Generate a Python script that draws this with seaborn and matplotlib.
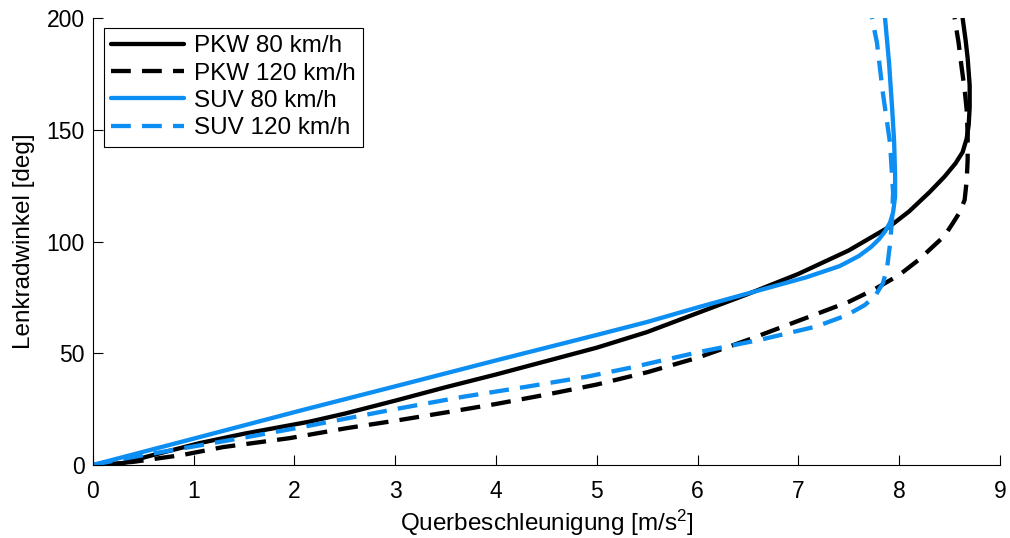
import numpy as np
import pandas as pd
import matplotlib
matplotlib.use("Agg")
import matplotlib.pyplot as plt
import seaborn as sns

# Lenkradwinkel über Querbeschleunigung, zwei Fahrzeuge bei zwei Geschwindigkeiten
pkw80_x = [0.0, 0.3, 0.6, 1.06, 1.5, 2.15, 2.5, 3.0, 3.5, 4.0, 4.5, 5.0, 5.5, 6.0,
           6.5, 7.0, 7.5, 7.9, 8.10, 8.30, 8.45, 8.56, 8.63, 8.67, 8.69,
           8.70, 8.70, 8.68, 8.66, 8.63]
pkw80_y = [0.0, 0.9, 4.5, 9.8, 14.0, 19.4, 23.0, 28.8, 34.8, 40.5, 46.5, 52.5, 59.5, 68.0,
           76.5, 85.5, 96.0, 106.5, 113.5, 122.0, 129.0, 135.0, 140.0, 146.0, 152.0,
           160.0, 170.0, 182.0, 190.0, 200.0]

pkw120_x = [0.0, 0.4, 0.89, 1.29, 1.95, 2.52, 3.0, 3.5, 4.0, 4.5, 5.0, 5.5, 6.0, 6.5,
            7.0, 7.5, 7.75, 8.0, 8.2, 8.33, 8.45, 8.53, 8.60, 8.65, 8.67, 8.68,
            8.68, 8.67, 8.65, 8.62, 8.59, 8.55]
pkw120_y = [0.0, 1.4, 4.5, 8.0, 12.0, 16.5, 19.8, 23.5, 27.3, 31.5, 36.0, 41.5, 48.0, 56.0,
            64.5, 73.0, 78.5, 85.0, 92.0, 97.5, 102.5, 108.0, 113.0, 118.6, 127.0,
            136.5, 148.0, 159.0, 168.0, 178.0, 189.0, 200.0]

suv80_x = [0.0, 1.0, 2.08, 3.0, 4.0, 5.0, 5.5, 6.0, 6.55, 7.08, 7.41, 7.6, 7.72,
           7.80, 7.86, 7.91, 7.94, 7.96, 7.96, 7.95, 7.93, 7.90, 7.86]
suv80_y = [0.0, 11.8, 24.6, 35.2, 46.8, 58.2, 64.0, 70.5, 77.4, 84.0, 89.0, 93.5, 97.5,
           101.0, 104.5, 108.5, 113.0, 120.0, 130.0, 145.0, 160.0, 180.0, 200.0]

suv120_x = [0.0, 0.3, 0.63, 1.19, 1.53, 2.08, 2.4, 3.0, 3.67, 4.3, 4.9, 5.33, 6.02,
            6.62, 7.18, 7.48, 7.66, 7.76, 7.84, 7.88, 7.91, 7.93, 7.94, 7.91, 7.84,
            7.78, 7.73]
suv120_y = [0.0, 2.8, 5.4, 9.8, 12.5, 17.0, 19.8, 25.0, 30.5, 35.0, 39.5, 43.5, 50.6,
            56.0, 62.0, 67.0, 71.6, 75.5, 81.4, 88.0, 99.0, 110.0, 122.0, 144.0, 166.0,
            189.0, 200.0]

labels = ["PKW 80 km/h", "PKW 120 km/h", "SUV 80 km/h", "SUV 120 km/h"]
xs = [pkw80_x, pkw120_x, suv80_x, suv120_x]
ys = [pkw80_y, pkw120_y, suv80_y, suv120_y]

x_ticks = list(range(0, 10))
y_ticks = [0, 50, 100, 150, 200]

sns.set_theme(style="white")
plt.rcParams["font.family"] = ["Liberation Sans", "DejaVu Sans"]
plt.rcParams["mathtext.fontset"] = "custom"
plt.rcParams["mathtext.rm"] = "Liberation Sans"
plt.rcParams["mathtext.it"] = "Liberation Sans"
plt.rcParams["text.color"] = "black"
plt.rcParams["axes.labelcolor"] = "black"

blue = "#0C8EF2"
colors = ["black", "black", blue, blue]
dashed = [False, True, False, True]
fs_tick = 16.5
fs_text = 17.5

fig = plt.figure(figsize=(10.10, 5.38), dpi=100)
ax = fig.add_axes([0.092, 0.1357, 0.898, 0.8308])

for lab, x, y, c, d in zip(labels, xs, ys, colors, dashed):
    df = pd.DataFrame({"a": x, "w": y})
    sns.lineplot(data=df, x="a", y="w", sort=False, estimator=None, color=c,
                 lw=3.1, ax=ax, label=lab)
    line = ax.get_lines()[-1]
    line.set_solid_joinstyle("round")
    if d:
        line.set_dashes((4.6, 2.6))

ax.set_xlim(0, 9)
ax.set_ylim(0, 200)
ax.set_xticks(x_ticks)
ax.set_yticks(y_ticks)
ax.tick_params(axis="both", direction="in", length=7, width=0.8, colors="black",
               labelsize=fs_tick, bottom=True, left=True)
ax.tick_params(axis="x", pad=11)
ax.tick_params(axis="y", pad=6)
for side in ["top", "right"]:
    ax.spines[side].set_visible(False)
for side in ["left", "bottom"]:
    ax.spines[side].set_color("black")
    ax.spines[side].set_linewidth(0.8)

ax.set_xlabel(r"Querbeschleunigung [m/s$^{2}$]", fontsize=fs_text, labelpad=3)
ax.set_ylabel("Lenkradwinkel [deg]", fontsize=fs_text, labelpad=8)

leg = ax.legend(loc="upper left", bbox_to_anchor=(0.012, 0.978), borderaxespad=0,
                fontsize=fs_text, handlelength=3.0, handletextpad=0.4, borderpad=0.3,
                labelspacing=0.22, fancybox=False, framealpha=1)
leg.get_frame().set_edgecolor("black")
leg.get_frame().set_linewidth(0.8)

fig.savefig("out.png", dpi=100)
